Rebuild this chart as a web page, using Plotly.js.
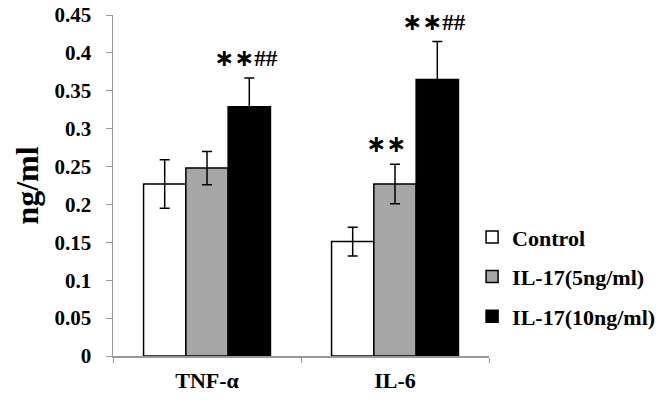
<!DOCTYPE html>
<html><head><meta charset="utf-8">
<script src="https://cdn.plot.ly/plotly-3.0.1.min.js"></script>
<style>body{margin:0;background:#fff}#chart{width:672px;height:400px}</style>
</head><body><div id="chart"></div>
<script>
const categories = ["TNF-α", "IL-6"];
const seriesNames = ["Control", "IL-17(5ng/ml)", "IL-17(10ng/ml)"];
const controlVals = [0.227, 0.151];
const controlErr = [0.032, 0.019];
const il17_5Vals = [0.248, 0.227];
const il17_5Err = [0.022, 0.026];
const il17_10Vals = [0.329, 0.365];
const il17_10Err = [0.038, 0.050];
const yTicks = [0, 0.05, 0.1, 0.15, 0.2, 0.25, 0.3, 0.35, 0.4, 0.45];
const yTickText = ["0", "0.05", "0.1", "0.15", "0.2", "0.25", "0.3", "0.35", "0.4", "0.45"];
const sigLabels = [
  {series: 2, cat: 0, text: "∗∗##"},
  {series: 1, cat: 1, text: "∗∗"},
  {series: 2, cat: 1, text: "∗∗##"}
];

const fills = ["#ffffff", "#a6a6a6", "#000000"];
const vals = [controlVals, il17_5Vals, il17_10Vals];
const errs = [controlErr, il17_5Err, il17_10Err];
const font = "Liberation Serif";
const b = t => "<b>" + t + "</b>";

const traces = seriesNames.map((n, i) => ({
  type: "bar", name: b(n), x: categories.map(b), y: vals[i], legendgroup: "g" + i,
  marker: {color: fills[i], line: {color: "#000", width: 1.5}},
  error_y: {type: "data", array: errs[i], visible: true, color: "#000", thickness: 1.5, width: 5}
}));

const annotations = sigLabels.map(s => ({
  x: b(categories[s.cat]), y: vals[s.series][s.cat] + errs[s.series][s.cat],
  xref: "x", yref: "y", xshift: (s.series - 1) * 42 + (s.text.length > 2 ? -3 : -9),
  yanchor: "bottom", yshift: 4, showarrow: false,
  text: b(s.text.replace(/(∗+)/, '<span style="font-family:DejaVu Sans;font-size:24px">$1</span>')),
  font: {family: font, size: 23, color: "#000"}
}));

const layout = {
  width: 672, height: 400,
  margin: {l: 113, r: 183, t: 15, b: 44},
  paper_bgcolor: "#fff", plot_bgcolor: "#fff",
  barmode: "group", bargap: 0.325, bargroupgap: 0,
  font: {family: font, color: "#000"},
  xaxis: {
    type: "category", showline: true, linecolor: "#999", linewidth: 1.5,
    ticks: "outside", tickson: "boundaries", ticklen: 5, tickcolor: "#999",
    ticklabelstandoff: 4,
    tickfont: {family: font, size: 22}, showgrid: false, zeroline: false
  },
  yaxis: {
    range: [0, 0.45], tickvals: yTicks, ticktext: yTickText.map(b),
    showline: true, linecolor: "#999", linewidth: 1.5,
    ticks: "outside", ticklen: 6, tickcolor: "#999",
    ticklabelstandoff: 10,
    tickfont: {family: font, size: 21},
    showgrid: false, zeroline: false,
    title: {text: b("ng/ml"), font: {family: font, size: 32}, standoff: 6}
  },
  showlegend: true,
  legend: {
    x: 0.955, xanchor: "left", y: 0.41, yanchor: "top",
    traceorder: "grouped", tracegroupgap: 8, itemwidth: 30,
    font: {family: font, size: 22}, bgcolor: "rgba(0,0,0,0)"
  },
  annotations: annotations
};

Plotly.newPlot("chart", traces, layout, {displayModeBar: false, staticPlot: true});
</script></body></html>
